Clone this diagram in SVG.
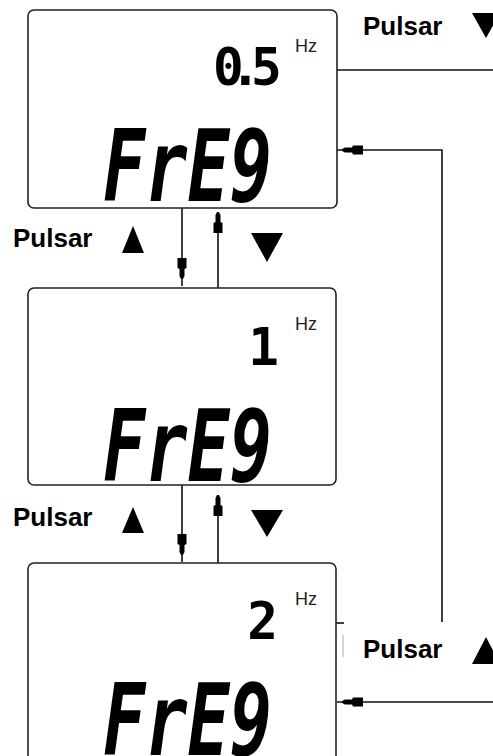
<svg xmlns="http://www.w3.org/2000/svg" xmlns:xlink="http://www.w3.org/1999/xlink" width="493" height="756" viewBox="0 0 493 756">
<style>
.box{fill:#fff;stroke:#222;stroke-width:1.6}
.big{font-family:"DejaVu Sans Mono",monospace;font-weight:bold;font-style:oblique;font-size:100px;fill:#000}
.num{font-family:"DejaVu Sans Mono",monospace;font-weight:bold;font-size:51px;fill:#000}
.hz{font-family:"Liberation Sans",Arial,sans-serif;font-size:18px;fill:#222}
.lbl{font-family:"Liberation Sans",Arial,sans-serif;font-weight:bold;font-size:26px;fill:#000}
.ln{stroke:#111;stroke-width:1.6;fill:none}
.tri{fill:#000}
</style>
<defs>
<path id="ah" d="M-1,0 L1,0 L2.5,-3 L2.5,-10 L4.5,-11 L4.5,-21 L-4.5,-21 L-4.5,-11 L-2.5,-10 L-2.5,-3 Z" fill="#000"/>
</defs>
<rect width="493" height="756" fill="#fff"/>

<g id="connectors">
  <line class="ln" x1="182" y1="208" x2="182" y2="286"/>
  <line class="ln" x1="218" y1="212" x2="218" y2="288"/>
  <use xlink:href="#ah" href="#ah" transform="translate(182,279)"/>
  <use xlink:href="#ah" href="#ah" transform="translate(218,212) rotate(180)"/>
  <line class="ln" x1="182" y1="485" x2="182" y2="562"/>
  <line class="ln" x1="218" y1="495" x2="218" y2="563"/>
  <use xlink:href="#ah" href="#ah" transform="translate(182,555)"/>
  <use xlink:href="#ah" href="#ah" transform="translate(218,495) rotate(180)"/>
  <line class="ln" x1="337" y1="70" x2="493" y2="70"/>
  <polyline class="ln" points="337,150 442,150 442,622"/>
  <use xlink:href="#ah" href="#ah" transform="translate(342,150) rotate(90)"/>
  <line class="ln" x1="336" y1="623" x2="344" y2="623"/>
  <line x1="343" y1="635" x2="343" y2="657" stroke="#bbb" stroke-width="1.2"/>
  <line class="ln" x1="337" y1="702" x2="493" y2="702"/>
  <use xlink:href="#ah" href="#ah" transform="translate(342,702) rotate(90)"/>
</g>

<g id="box1">
  <rect class="box" x="28" y="10" width="309" height="198" rx="6"/>
  <text class="num" x="213 230 251" y="85">0.5</text>
  <text class="hz" x="295" y="52">Hz</text>
  <text class="big" x="103" y="201" textLength="169" lengthAdjust="spacingAndGlyphs">FrE9</text>
</g>

<g id="box2">
  <rect class="box" x="28" y="288" width="308" height="197" rx="6"/>
  <text class="num" x="279" y="365" text-anchor="end">1</text>
  <text class="hz" x="295" y="330">Hz</text>
  <text class="big" x="103" y="481" textLength="169" lengthAdjust="spacingAndGlyphs">FrE9</text>
</g>

<g id="box3">
  <rect class="box" x="28" y="563" width="308" height="230" rx="6"/>
  <text class="num" x="278" y="639" text-anchor="end">2</text>
  <text class="hz" x="295" y="605">Hz</text>
  <text class="big" x="103" y="755" textLength="169" lengthAdjust="spacingAndGlyphs">FrE9</text>
</g>

<g id="label-top-right">
  <text class="lbl" x="363" y="35">Pulsar</text>
  <polygon class="tri" points="472,13 500,13 486,38"/>
</g>
<g id="label-left-1">
  <text class="lbl" x="13" y="247">Pulsar</text>
  <polygon class="tri" points="122,253 144,253 133,226"/>
  <polygon class="tri" points="251,233 283,233 267,262"/>
</g>
<g id="label-left-2">
  <text class="lbl" x="13" y="526">Pulsar</text>
  <polygon class="tri" points="122,533 144,533 133,507"/>
  <polygon class="tri" points="251,510 283,510 267,537"/>
</g>
<g id="label-bottom-right">
  <text class="lbl" x="363" y="658">Pulsar</text>
  <polygon class="tri" points="472,664 500,664 486,637"/>
</g>
</svg>
